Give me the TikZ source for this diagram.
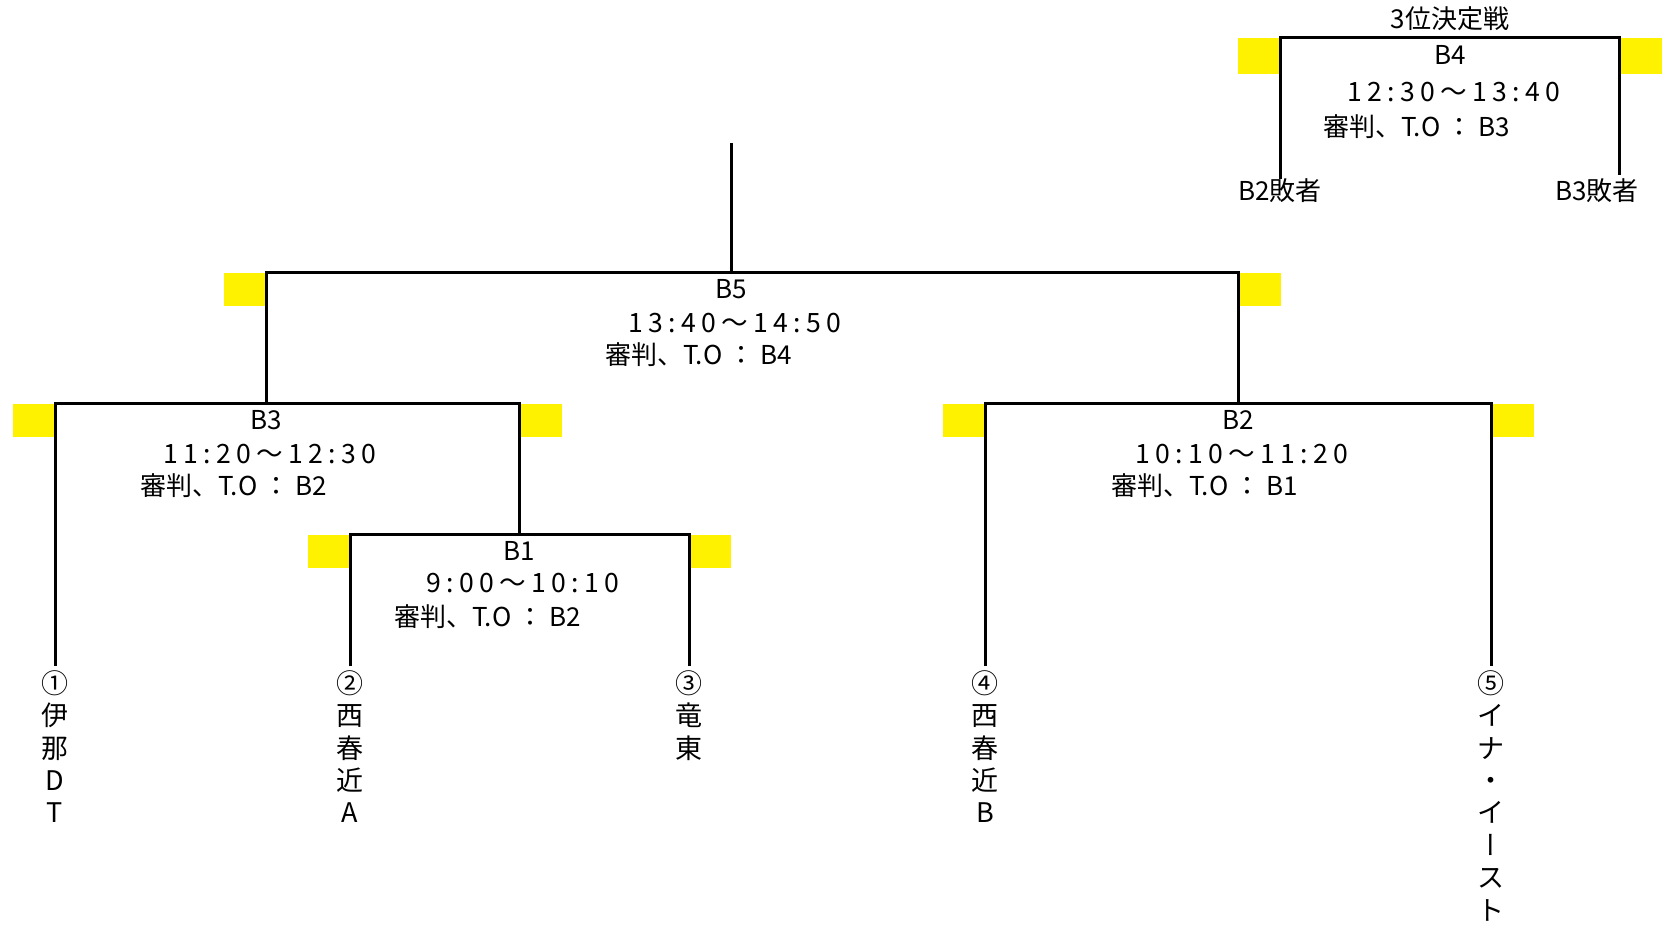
\documentclass[tikz,border=0pt]{standalone}
\usepackage{fontspec}
\setmainfont{Noto Sans CJK JP}
\newfontfamily\vertfont[RawFeature=+vert]{Noto Sans CJK JP}
\newfontfamily\timefont[LetterSpace=20]{Noto Sans CJK JP}
\usetikzlibrary{calc}

\begin{document}
\begin{tikzpicture}[x=0.5pt,y=-0.5pt,
                    bline/.style={line width=1.5pt},
                    flag/.style={fill=yellow},
                    lbl/.style={inner sep=0pt,font=\fontsize{13}{15}\selectfont},
                    slot/.style={inner sep=0pt,font=\timefont\fontsize{13.3}{15}\selectfont},
                    team/.style={inner xsep=0pt,inner ysep=2pt,anchor=north,align=center,font=\fontsize{13.5}{16.2}\selectfont}]
                     \useasboundingbox (0,0) rectangle (1662,925);
                     \fill[flag] (13,404) rectangle (55,437);
                     \fill[flag] (519,404) rectangle (562,437);
                     \fill[flag] (308,535) rectangle (350,568);
                     \fill[flag] (689,535) rectangle (731,568);
                     \fill[flag] (943,404) rectangle (985,437);
                     \fill[flag] (1491,404) rectangle (1534,437);
                     \fill[flag] (224,273) rectangle (266,306);
                     \fill[flag] (1238,273) rectangle (1281,306);
                     \fill[flag] (1238,38) rectangle (1280,74);
                     \fill[flag] (1619,38) rectangle (1662,74);
                     \coordinate (m1) at (519,535);
                     \coordinate (m2) at (1238,404);
                     \coordinate (m3) at (266,404);
                     \coordinate (m5) at (731,273);
                     \coordinate (top) at (731,143);
                     \coordinate (m4) at (1450,38);
                     \coordinate (l3end) at (1619,175);
                     \node[team] (t1) at (55,666) {①\\伊\\那\\D\\T};
                     \node[team] (t2) at (350,666) {②\\西\\春\\近\\A};
                     \node[team] (t3) at (689,666) {③\\竜\\東};
                     \node[team] (t4) at (985,666) {④\\西\\春\\近\\B};
                     \node[team] (t5) at (1491,666) {⑤\\イ\\ナ\\・\\イ\\{\vertfont ー}\\ス\\ト};
                     \node[lbl] (ttl) at (1450,19) {3位決定戦};
                     \node[lbl] (l2) at (1280,191) {B2敗者};
                     \node[lbl] (l3) at (1597,191) {B3敗者};
                     \draw[bline] (t2.north) |- (m1) -| (t3.north);
                     \draw[bline] (t1.north) |- (m3) -| (m1);
                     \draw[bline] (t4.north) |- (m2) -| (t5.north);
                     \draw[bline] (m3) |- (m5) -| (m2);
                     \draw[bline] (m5) -- (top);
                     \draw[bline] (l2.north) |- (m4) -| (l3end);
                     \node[lbl] (n5) at (731,289) {B5};
                     \node[slot] (s5) at (735,323) {13:40～14:50};
                     \node[lbl,anchor=west] (r5) at (605,355) {審判、T.O ： B4};
                     \node[lbl] (n3) at (266,420) {B3};
                     \node[slot] (s3) at (270,454) {11:20～12:30};
                     \node[lbl,anchor=west] (r3) at (140,486) {審判、T.O ： B2};
                     \node[lbl] (n1) at (519,551) {B1};
                     \node[slot] (s1) at (523,583) {9:00～10:10};
                     \node[lbl,anchor=west] (r1) at (394,617) {審判、T.O ： B2};
                     \node[lbl] (n2) at (1238,420) {B2};
                     \node[slot] (s2) at (1242,454) {10:10～11:20};
                     \node[lbl,anchor=west] (r2) at (1111,486) {審判、T.O ： B1};
                     \node[lbl] (n4) at (1450,55) {B4};
                     \node[slot] (s4) at (1454,92) {12:30～13:40};
                     \node[lbl,anchor=west] (r4) at (1323,127) {審判、T.O ： B3};
                 \end{tikzpicture}
\end{document}
